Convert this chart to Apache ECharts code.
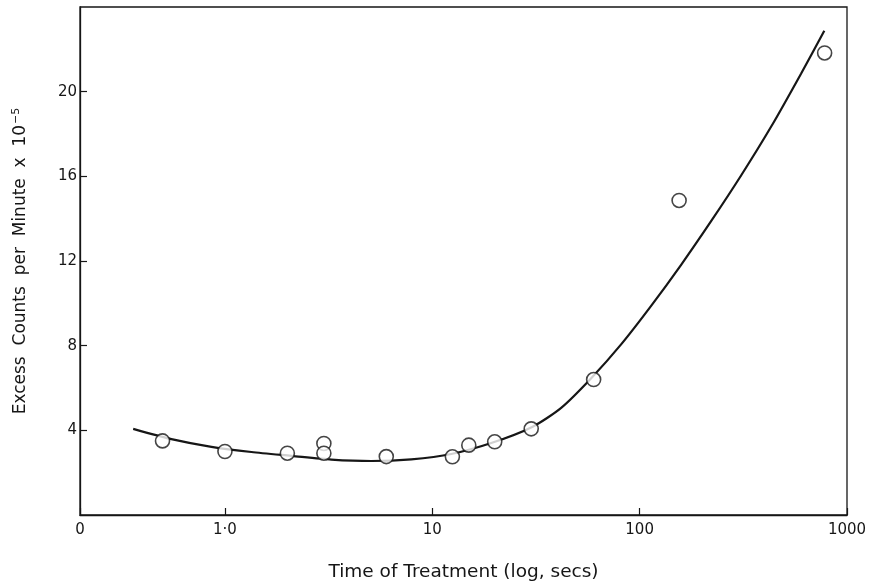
<!DOCTYPE html>
<html>
<head>
<meta charset="utf-8">
<script src="https://cdn.jsdelivr.net/npm/echarts@6/dist/echarts.min.js"></script>
<style>
html,body{margin:0;padding:0;background:#fff;}
#chart{width:879px;height:588px;}
</style>
</head>
<body>
<div id="chart"></div>
<script>
// Observed points: time of treatment (s) and excess counts per minute (x10^-5)
const pointTimes  = [0.5, 1.0, 2, 3, 3, 6, 12.5, 15, 20, 30, 60, 155, 780];
const pointCounts = [3.5, 3.0, 2.92, 3.38, 2.92, 2.76, 2.75, 3.3, 3.46, 4.07, 6.4, 14.86, 21.83];

// Fitted curve
const curveTimes  = [0.361, 0.552, 0.861, 1.342, 2.092, 3.262, 5.082, 7.922, 12.35, 19.25, 30.33, 41.84, 58.4, 81.4, 113.6, 158.5, 221.1, 308.5, 430.3, 600.2, 777.3];
const curveCounts = [4.07, 3.585, 3.22, 2.976, 2.796, 2.62, 2.551, 2.631, 2.881, 3.40, 4.16, 5.06, 6.46, 8.06, 9.88, 11.82, 13.88, 16.04, 18.34, 20.85, 22.88];

// Axis ticks
const xTickLabels = {0.2: '0', 1: '1·0', 10: '10', 100: '100', 1000: '1000'};
const yTicks = [4, 8, 12, 16, 20];

const ink = '#161616';
const font = 'DejaVu Sans';

const chart = echarts.init(document.getElementById('chart'), null, {renderer: 'canvas'});
chart.setOption({
  backgroundColor: '#fff',
  animation: false,
  grid: {left: 80, right: 32, top: 7, bottom: 73, show: true, borderColor: ink, borderWidth: 1.3, containLabel: false},
  xAxis: {
    type: 'log', logBase: 10, min: 0.2, max: 1000,
    name: 'Time of Treatment (log, secs)',
    nameLocation: 'middle', nameGap: 48,
    nameTextStyle: {fontFamily: font, fontSize: 18.5, color: ink},
    axisLine: {show: true, lineStyle: {color: ink, width: 1.3}},
    axisTick: {show: true, inside: true, length: 7, lineStyle: {color: ink, width: 1.2}},
    minorTick: {show: false},
    splitLine: {show: false},
    axisLabel: {
      fontFamily: font, fontSize: 15, color: ink, margin: 8,
      showMinLabel: true, showMaxLabel: true,
      formatter: function (v) {
        let best = null;
        for (const k in xTickLabels) {
          if (Math.abs(Math.log10(v) - Math.log10(+k)) < 0.02) best = xTickLabels[k];
        }
        return best === null ? '' : best;
      }
    }
  },
  yAxis: {
    type: 'value', min: 0, max: 24, interval: 4,
    name: 'Excess  Counts  per  Minute  x  10{sup|−5}',
    nameLocation: 'middle', nameGap: 49, nameRotate: 90,
    nameTextStyle: {fontFamily: font, fontSize: 17, color: ink,
      rich: {sup: {fontFamily: font, fontSize: 11, color: ink, verticalAlign: 'top', padding: [0, 0, 9, 1]}}},
    axisLine: {show: true, lineStyle: {color: ink, width: 1.3}},
    axisTick: {show: true, inside: true, length: 7, lineStyle: {color: ink, width: 1.2},
      customValues: yTicks},
    splitLine: {show: false},
    axisLabel: {
      fontFamily: font, fontSize: 15, color: ink, margin: 3,
      customValues: yTicks,
      formatter: function (v) { return yTicks.indexOf(v) >= 0 ? String(v) : ''; }
    }
  },
  series: [
    {
      type: 'line',
      data: curveTimes.map((t, i) => [t, curveCounts[i]]),
      smooth: 0.25,
      showSymbol: false,
      symbol: 'none',
      lineStyle: {color: ink, width: 2.2},
      z: 2
    },
    {
      type: 'scatter',
      data: pointTimes.map((t, i) => [t, pointCounts[i]]),
      symbol: 'circle',
      symbolSize: 14,
      itemStyle: {color: '#fff', borderColor: ink, borderWidth: 1.6},
      z: 3
    }
  ]
});
</script>
</body>
</html>
